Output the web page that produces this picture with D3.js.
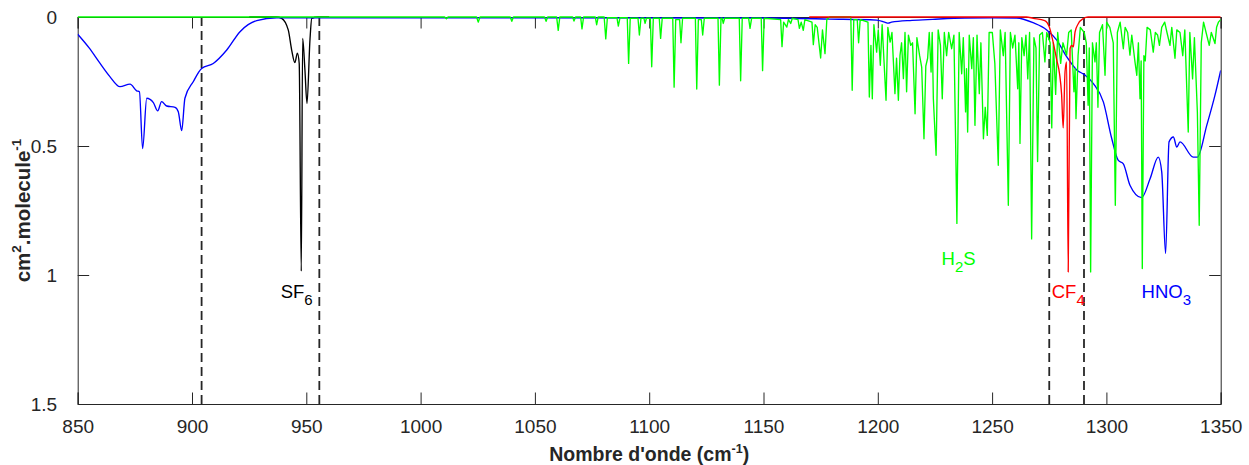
<!DOCTYPE html>
<html>
<head>
<meta charset="utf-8">
<script src="https://cdn.jsdelivr.net/npm/d3@7"></script>
<style>
  html, body { margin: 0; padding: 0; background: #fff; }
  svg { display: block; font-family: "Liberation Sans", Arial, Helvetica, sans-serif; }
</style>
</head>
<body>
<svg id="chart" width="1249" height="465"></svg>
<script>
// ---------------- DATA ----------------
const xTicks = [850, 900, 950, 1000, 1050, 1100, 1150, 1200, 1250, 1300, 1350];
const yTicks = [0, 0.5, 1, 1.5];
const yTickLabels = ["0", "0.5", "1", "1.5"];
const bandLimits = [904.2, 955.7, 1275, 1290.2];

// HNO3 (blue) [wavenumber, absorption]
const hno3 = [
  [850,0.067],[855,0.12],[859.8,0.18],[864,0.23],[868.5,0.27],[872.9,0.26],[875.8,0.286],[877,0.29],
  [878.4,0.51],[880.2,0.315],[883.1,0.332],[885,0.364],[886.7,0.328],[888.9,0.345],[892.6,0.35],
  [894,0.367],[895.5,0.44],[896.9,0.315],[900.6,0.25],[904.2,0.20],[909.3,0.18],[915.2,0.128],
  [921,0.057],[928.3,0.014],[937,0.003],[960,0.003],[1150,0.004],[1179,0.008],[1199.5,0.012],
  [1203,0.02],[1204.6,0.024],[1206,0.02],[1215,0.013],[1224,0.009],[1238,0.004],[1250,0.003],
  [1260.7,0.004],[1267.9,0.022],[1273.9,0.05],[1278.3,0.09],[1282.6,0.154],[1287,0.205],
  [1290.6,0.225],[1294.3,0.258],[1298.7,0.33],[1302.3,0.47],[1305.2,0.556],[1307.4,0.569],
  [1310.3,0.652],[1315.4,0.70],[1319.1,0.627],[1322.7,0.543],[1324.2,0.60],[1325.9,0.917],
  [1327.4,0.484],[1329.3,0.465],[1330.8,0.504],[1332.2,0.484],[1338,0.543],[1339.8,0.543],
  [1343.9,0.42],[1347.5,0.303],[1350,0.207]
];

// SF6 (black)
const sf6 = [
  [925,0],[937,0],[939.2,0.005],[942.1,0.05],[943.6,0.128],[945,0.177],[946.1,0.14],[946.9,0.18],
  [947.8,0.985],[948.4,0.083],[949.4,0.205],[950.3,0.335],[951.6,0.089],[952.4,0.005],[955,0],[960,0]
];

// CF4 (red)
const cf4 = [
  [1170,0],[1265,0],[1268,0.005],[1273,0.014],[1275,0.038],[1276.5,0.09],[1278.3,0.167],
  [1279.5,0.22],[1280.4,0.30],[1281.1,0.43],[1281.9,0.213],[1282.6,0.174],[1283.3,0.988],
  [1284.1,0.123],[1284.8,0.11],[1285.5,0.116],[1286.3,0.058],[1287.7,0.026],[1289.9,0.006],
  [1292,0],[1350,0]
];

// H2S (green)
const h2s = [
  [850,0],[1010.5,0],[1011.3,0.007],[1012,0],
  [1024.5,0],[1025.2,0.02],[1026,0],
  [1039.2,0],[1039.9,0.017],[1040.6,0],
  [1054.2,0],[1054.9,0.017],[1055.6,0],
  [1059.5,0],[1060.2,0.052],[1060.9,0],
  [1066.5,0],[1067.1,0.016],[1067.8,0],
  [1070,0],[1070.6,0.046],[1071.3,0],
  [1076.4,0],[1077,0.03],[1077.7,0],
  [1080.3,0],[1081,0.085],[1081.7,0.003],
  [1085.9,0.003],[1086.5,0.035],[1087.2,0.003],
  [1090.4,0.003],[1091,0.18],[1091.7,0.005],
  [1095.1,0.005],[1095.7,0.07],[1096.4,0.005],
  [1097.7,0.005],[1098.2,0.025],[1098.8,0.005],
  [1100.5,0.005],[1101.1,0.193],[1101.8,0.005],
  [1104.4,0.005],[1105,0.083],[1105.7,0.005],
  [1110.3,0.005],[1110.9,0.272],[1111.6,0.01],
  [1113.3,0.01],[1113.9,0.10],[1114.6,0.005],
  [1120.2,0.005],[1120.8,0.279],[1121.5,0.01],
  [1122.8,0.01],[1123.4,0.07],[1124.1,0.005],
  [1130.1,0.005],[1130.7,0.264],[1131.4,0.005],
  [1131.9,0.005],[1132.4,0.025],[1133,0.005],
  [1139.4,0.005],[1140,0.247],[1140.7,0.005],
  [1143.5,0.005],[1144.1,0.044],[1144.8,0.005],
  [1149,0.005],[1149.6,0.208],[1150.3,0.005],
  [1157.5,0.01],[1158.1,0.115],[1158.8,0.02],
  [1160.2,0.039],[1160.9,0.01],[1161.9,0.025],[1162.6,0.005],
  [1165.1,0.01],[1165.7,0.044],[1166.5,0.02],[1167.4,0.052],[1168.1,0.01],
  [1171.2,0.02],[1171.8,0.107],[1172.6,0.03],[1173.5,0.04],
  [1175,0.159],[1175.8,0.05],[1176.9,0.142],[1177.7,0.01],
  [1179,0],[1188.2,0],[1188.8,0.284],[1189.5,0.01],
  [1191,0.01],[1191.6,0.10],[1192.3,0.01],
  [1195.7,0.02],[1196.3,0.31],[1197,0.11],[1197.6,0.317],[1198.3,0.03],
  [1199.5,0.136],[1200.2,0.05],[1201.1,0.187],[1201.9,0.03],
  [1203.6,0.323],[1204.4,0.04],[1205.4,0.097],[1206.2,0.06],
  [1207.5,0.297],[1208.2,0.16],[1209,0.323],[1209.7,0.15],[1210.4,0.1],
  [1211.2,0.239],[1211.9,0.06],[1212.6,0.29],[1213.4,0.07],
  [1214.4,0.11],[1215.2,0.1],[1216.3,0.375],[1217.1,0.08],
  [1218.3,0.15],[1219.2,0.194],[1220.2,0.472],[1221,0.19],[1221.8,0.16],
  [1222.5,0.06],[1223.3,0.213],[1223.8,0.06],[1224.3,0.317],[1225.5,0.536],[1226.4,0.05],
  [1227.4,0.11],[1228.2,0.317],[1229.1,0.06],
  [1230.1,0.15],[1231,0.06],[1232.3,0.123],[1233.3,0.07],
  [1234.6,0.80],[1235.6,0.06],[1236.7,0.22],[1237.4,0.08],
  [1238.4,0.368],[1238.8,0.2],[1239.3,0.446],[1240,0.07],
  [1241.1,0.2],[1241.8,0.08],[1242.5,0.42],[1243.4,0.07],
  [1244.4,0.297],[1245.1,0.1],[1246.2,0.472],[1247,0.35],[1247.9,0.459],[1248.7,0.06],
  [1250.1,0.06],[1251.2,0.18],[1252.7,0.575],[1253.6,0.05],
  [1254.9,0.15],[1255.7,0.06],[1257.1,0.73],[1258,0.06],
  [1259,0.12],[1260,0.07],[1261.2,0.278],[1261.7,0.1],[1262.2,0.49],[1263,0.08],
  [1264,0.15],[1264.8,0.07],[1265.6,0.24],[1266.4,0.06],[1267.3,0.86],[1268.3,0.08],
  [1269.2,0.12],[1269.9,0.56],[1270.8,0.07],
  [1272,0.06],[1273.1,0.174],[1273.9,0.06],
  [1275.4,0.1],[1276.1,0.43],[1276.8,0.1],[1277.8,0.30],[1278.7,0.06],
  [1280,0.18],[1281,0.1],[1282.6,0.148],[1283.5,0.06],
  [1284.6,0.05],[1285.8,0.29],[1286.3,0.2],[1286.7,0.394],[1287.6,0.15],
  [1288.6,0.04],[1290.3,0.06],[1291.2,0.1],[1292,0.342],[1292.5,0.12],[1293.1,0.988],[1293.9,0.1],
  [1295,0.174],[1295.6,0.1],[1296.3,0.35],[1297,0.06],
  [1298.3,0.03],[1299.4,0.226],[1300.1,0.02],
  [1301.5,0.04],[1303,0.1],[1303.9,0.73],[1304.8,0.06],
  [1306,0.02],[1307.4,0.123],[1308.2,0.04],
  [1309.3,0.06],[1310.3,0.148],[1311.1,0.07],
  [1312.5,0.174],[1313.3,0.226],[1314,0.1],[1314.7,0.317],[1315.2,0.17],[1315.7,0.975],[1316.4,0.15],
  [1317,0.17],[1317.8,0.04],
  [1319.2,0.05],[1320.5,0.136],[1321.4,0.06],
  [1322.4,0.07],[1323.2,0.11],[1324.2,0.04],
  [1325.5,0.02],[1326.5,0.06],[1327.8,0.11],[1328.6,0.04],
  [1330,0.16],[1330.8,0.05],
  [1332.2,0.06],[1333.4,0.15],[1334.3,0.05],
  [1335.8,0.446],[1336.5,0.06],[1337.7,0.24],[1338.5,0.08],
  [1339.8,0.37],[1340.6,0.807],[1341.5,0.1],
  [1342.5,0.02],[1343.6,0.06],[1345,0.11],[1345.9,0.06],
  [1347.5,0.103],[1348.2,0.04],[1349,0.02],[1350,0.01]
];

// Species labels: main text, subscript, anchor (data units), colour
const speciesLabels = [
  {main: "SF", sub: "6", wn: 938.8, val: 1.089, color: "#000000"},
  {main: "H", sub: "2", tail: "S", wn: 1227.9, val: 0.961, color: "#00ff00"},
  {main: "CF", sub: "4", wn: 1276.1, val: 1.088, color: "#ff0000"},
  {main: "HNO", sub: "3", wn: 1315.4, val: 1.088, color: "#0000ff"}
];

// ---------------- LAYOUT ----------------
const W = 1249, H = 465;
const M = {left: 77.7, right: 28.3, top: 17, bottom: 61};
const iw = W - M.left - M.right, ih = H - M.top - M.bottom;
const axisColor = "#262626";
const tickLen = 11.5;

const svg = d3.select("#chart");
const g = svg.append("g").attr("transform", `translate(${M.left},${M.top})`);

const x = d3.scaleLinear().domain([850, 1350]).range([0, iw]);
const y = d3.scaleLinear().domain([0, 1.5]).range([0, ih]);

svg.append("defs").append("clipPath").attr("id", "clip")
  .append("rect").attr("x", 0).attr("y", -2).attr("width", iw).attr("height", ih + 2);

// Axes (inward ticks)
const fmtY = d => yTickLabels[yTicks.indexOf(d)];
const bottomAxis = d3.axisBottom(x).tickValues(xTicks).tickSize(-tickLen).tickPadding(tickLen + 4).tickFormat(d3.format("d"));
const topAxis = d3.axisTop(x).tickValues(xTicks).tickSize(-tickLen).tickFormat("");
const leftAxis = d3.axisLeft(y).tickValues(yTicks).tickSize(-tickLen).tickPadding(tickLen + 9).tickFormat(fmtY);
const rightAxis = d3.axisRight(y).tickValues(yTicks).tickSize(-tickLen).tickFormat("");

function styleAxis(sel) {
  sel.select(".domain").attr("stroke", axisColor).attr("stroke-width", 1);
  sel.selectAll(".tick line").attr("stroke", axisColor).attr("stroke-width", 1);
  sel.selectAll(".tick text").attr("fill", axisColor).style("font-size", "19px")
     .style("font-family", "'Liberation Sans', Arial, sans-serif");
}
g.append("g").attr("transform", `translate(0,${ih})`).call(bottomAxis).call(styleAxis);
g.append("g").call(topAxis).call(styleAxis);
g.append("g").call(leftAxis).call(styleAxis);
g.append("g").attr("transform", `translate(${iw},0)`).call(rightAxis).call(styleAxis);

// Dashed band limits
g.append("g").selectAll("line").data(bandLimits).join("line")
  .attr("x1", d => x(d)).attr("x2", d => x(d))
  .attr("y1", y(0)).attr("y2", y(1.5))
  .attr("stroke", "#262626").attr("stroke-width", 1.8)
  .attr("stroke-dasharray", "9,5");

// Spectra
const line = d3.line().x(d => x(d[0])).y(d => y(d[1]));
const smooth = d3.line().x(d => x(d[0])).y(d => y(d[1])).curve(d3.curveMonotoneX);
const plot = g.append("g").attr("clip-path", "url(#clip)");
const series = [
  {data: sf6, color: "#000000", gen: smooth},
  {data: hno3, color: "#0000ff", gen: smooth},
  {data: h2s, color: "#00ff00", gen: line},
  {data: cf4, color: "#ff0000", gen: smooth}
];
series.forEach(s => {
  plot.append("path").datum(s.data)
    .attr("fill", "none").attr("stroke", s.color)
    .attr("stroke-width", 1.35).attr("stroke-linejoin", "round")
    .attr("d", s.gen);
});

// Species labels
speciesLabels.forEach(l => {
  const t = g.append("text").attr("x", x(l.wn)).attr("y", y(l.val))
    .attr("fill", l.color).style("font-size", "18.5px");
  t.append("tspan").text(l.main);
  t.append("tspan").attr("dy", 7).style("font-size", "15px").text(l.sub);
  if (l.tail) t.append("tspan").attr("dy", -7).text(l.tail);
});

// Axis titles
const xt = svg.append("text")
  .attr("x", M.left + iw / 2).attr("y", 461)
  .attr("text-anchor", "middle").attr("fill", axisColor)
  .style("font-size", "19.5px").style("font-weight", "bold");
xt.append("tspan").text("Nombre d'onde (cm");
xt.append("tspan").attr("dy", -8).style("font-size", "12.5px").text("-1");
xt.append("tspan").attr("dy", 8).text(")");

const yt = svg.append("text")
  .attr("transform", `translate(30,${M.top + ih / 2}) rotate(-90)`)
  .attr("text-anchor", "middle").attr("fill", axisColor)
  .style("font-size", "20.5px").style("font-weight", "bold");
yt.append("tspan").text("cm");
yt.append("tspan").attr("dy", -9).style("font-size", "13.5px").text("2");
yt.append("tspan").attr("dy", 9).text(".molecule");
yt.append("tspan").attr("dy", -9).style("font-size", "13.5px").text("-1");
</script>
</body>
</html>
